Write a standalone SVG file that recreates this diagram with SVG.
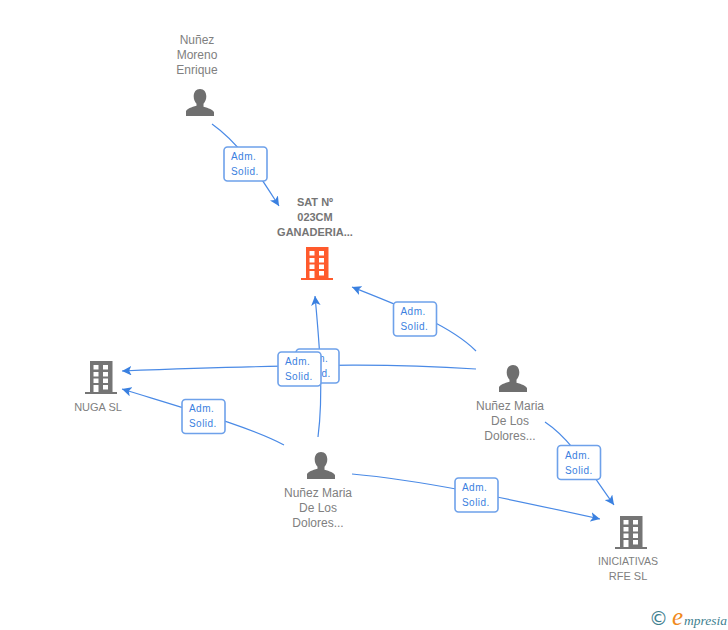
<svg xmlns="http://www.w3.org/2000/svg" width="728" height="630" viewBox="0 0 728 630">
<style>
text{font-family:"Liberation Sans",Arial,sans-serif}
.n{font-size:12px;fill:#808080;text-anchor:middle}
.u{font-size:11px}
.b{font-weight:bold;fill:#757575}
.e{fill:none;stroke:#4a8ae6;stroke-width:1.2;marker-end:url(#a)}
.r{fill:#fff;stroke:#6ea1ea;stroke-width:1.6}
.l{font-size:10px;letter-spacing:.45px;fill:#3b7fe0}
</style>
<defs>
<marker id="a" viewBox="0 0 10 10" refX="10" refY="5" markerUnits="userSpaceOnUse" markerWidth="9.500" markerHeight="9.500" orient="auto"><path d="M10 5L0 0L2.500 5L0 10Z" fill="#3a80e0"/></marker>
<symbol id="p" viewBox="0 0 28 28" overflow="visible"><path d="M14 0c4 0 6.300 3 6.300 7.500 0 3-1.200 5.500-2.800 7.200v3c5 1.500 9.500 2.800 10.500 5.500V27H0v-4.800c1-2.700 5.500-4 10.500-5.500v-2c-1.600-1.700-2.800-4.200-2.800-7.200C7.700 3 10 0 14 0Z"/></symbol>
<symbol id="h" viewBox="0 0 32 33" overflow="visible"><path fill-rule="evenodd" d="M5 0H27.500V31H32V33H0V31H5ZM8.500 4V8.500H13.500V4ZM18 4V8.500H23V4ZM8.500 11V15.500H13.500V11ZM18 11V15.500H23V11ZM8.500 17.500V22H13.500V17.500ZM18 17.500V22H23V17.500ZM8.500 24V31H13.500V24ZM18 24V28.500H23V24Z"/></symbol>
</defs>
<g id="connectors">
<path class="e" d="M212 124C240 144 256 170 279 206"/>
<path class="e" d="M476 351C450 325 400 306 352 287"/>
<path class="e" d="M476 369C400 364 340 363 122 371"/>
<path class="e" d="M318 437C324 390 319 340 315 296"/>
<path class="e" d="M284 445C250 427 190 410 122 389"/>
<path class="e" d="M352 474C420 480 500 497 600 519"/>
<path class="e" d="M545 422C572 440 590 472 614 505"/>
</g>
<g id="label-1"><rect class="r" x="224" y="147" width="43" height="34" rx="3.500"/><text class="l" x="231" y="160">Adm.</text><text class="l" x="231" y="175">Solid.</text></g>
<g id="label-2"><rect class="r" x="393.500" y="302" width="43" height="34" rx="3.500"/><text class="l" x="400.500" y="315">Adm.</text><text class="l" x="400.500" y="330">Solid.</text></g>
<g id="label-3"><rect class="r" x="296" y="349" width="43" height="34" rx="3.500"/><text class="l" x="303" y="362">Adm.</text><text class="l" x="303" y="377">Solid.</text></g>
<g id="label-4"><rect class="r" x="278" y="352" width="43" height="34" rx="3.500"/><text class="l" x="285" y="365">Adm.</text><text class="l" x="285" y="380">Solid.</text></g>
<g id="label-5"><rect class="r" x="182" y="399.500" width="43" height="34" rx="3.500"/><text class="l" x="189" y="412">Adm.</text><text class="l" x="189" y="427">Solid.</text></g>
<g id="label-6"><rect class="r" x="557.500" y="445.500" width="43" height="34" rx="3.500"/><text class="l" x="565" y="459">Adm.</text><text class="l" x="565" y="474">Solid.</text></g>
<g id="label-7"><rect class="r" x="455" y="478" width="43" height="34" rx="3.500"/><text class="l" x="462" y="491">Adm.</text><text class="l" x="462" y="506">Solid.</text></g>
<g id="node-enrique"><text class="n" x="197" y="44">Nuñez</text><text class="n" x="197" y="59">Moreno</text><text class="n" x="197" y="74">Enrique</text><use href="#p" x="186" y="89" width="28" height="28" fill="#6f6f6f"/></g>
<g id="node-sat"><text class="n b u" x="315" y="206">SAT Nº</text><text class="n b u" x="315" y="221">023CM</text><text class="n b u" x="315" y="236">GANADERIA...</text><use href="#h" x="301" y="247" width="32" height="33" fill="#ff5a2c"/></g>
<g id="node-nuga"><use href="#h" x="85" y="361" width="32" height="33" fill="#757575"/><text class="n u" x="98" y="411">NUGA SL</text></g>
<g id="node-maria-1"><use href="#p" x="499" y="365" width="28" height="28" fill="#6f6f6f"/><text class="n" x="510" y="410">Nuñez Maria</text><text class="n" x="510" y="425">De Los</text><text class="n" x="510" y="440">Dolores...</text></g>
<g id="node-maria-2"><use href="#p" x="307" y="452" width="28" height="28" fill="#6f6f6f"/><text class="n" x="318" y="497">Nuñez Maria</text><text class="n" x="318" y="512">De Los</text><text class="n" x="318" y="527">Dolores...</text></g>
<g id="node-iniciativas"><use href="#h" x="615" y="516" width="32" height="33" fill="#757575"/><text class="n u" x="628" y="565" textLength="60" lengthAdjust="spacingAndGlyphs">INICIATIVAS</text><text class="n u" x="628" y="580">RFE SL</text></g>
<g id="logo"><text x="658.500" y="625" font-size="19" fill="#3f7f8f" text-anchor="middle" style="font-family:'DejaVu Sans',sans-serif">©</text><text x="672" y="625" font-size="25" font-style="italic" fill="#f08a1d" style="font-family:'Liberation Serif',serif">e</text><text x="684" y="625" font-size="13.500" font-style="italic" fill="#3f7f8f" style="font-family:'Liberation Serif',serif">mpresia</text></g>
</svg>
